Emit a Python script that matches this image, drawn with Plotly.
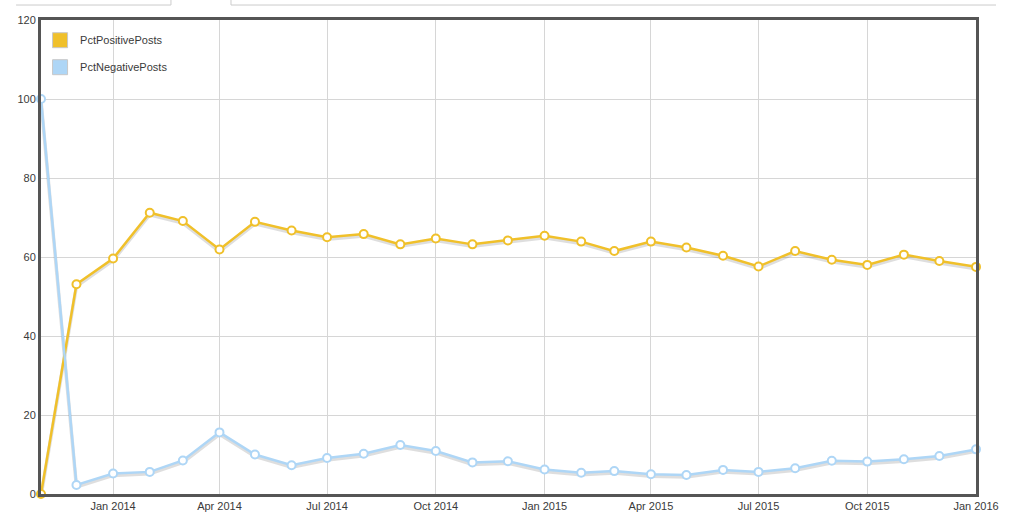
import plotly.graph_objects as go

months = ["2013-11-01", "2013-12-01", "2014-01-01", "2014-02-01", "2014-03-01", "2014-04-01",
          "2014-05-01", "2014-06-01", "2014-07-01", "2014-08-01", "2014-09-01", "2014-10-01",
          "2014-11-01", "2014-12-01", "2015-01-01", "2015-02-01", "2015-03-01", "2015-04-01",
          "2015-05-01", "2015-06-01", "2015-07-01", "2015-08-01", "2015-09-01", "2015-10-01",
          "2015-11-01", "2015-12-01", "2016-01-01"]

pct_positive = [0, 53.1, 59.6, 71.2, 69.1, 61.9, 68.9, 66.7, 65.0, 65.8, 63.2, 64.7, 63.2, 64.2,
                65.4, 63.9, 61.5, 63.9, 62.4, 60.3, 57.6, 61.5, 59.3, 58.0, 60.6, 59.0, 57.5]
pct_negative = [100, 2.3, 5.2, 5.6, 8.5, 15.6, 10.0, 7.3, 9.1, 10.2, 12.4, 10.9, 8.0, 8.3,
                6.2, 5.4, 5.8, 5.0, 4.8, 6.1, 5.6, 6.5, 8.4, 8.2, 8.8, 9.6, 11.3]

series_names = ["PctPositivePosts", "PctNegativePosts"]
series_values = [pct_positive, pct_negative]
colors = ["#F0C02A", "#AED6F6"]

tick_vals = ["2014-01-01", "2014-04-01", "2014-07-01", "2014-10-01", "2015-01-01",
             "2015-04-01", "2015-07-01", "2015-10-01", "2016-01-01"]
tick_text = ["Jan 2014", "Apr 2014", "Jul 2014", "Oct 2014", "Jan 2015",
             "Apr 2015", "Jul 2015", "Oct 2015", "Jan 2016"]

fig = go.Figure()

# soft drop shadows under the lines
for vals in series_values:
    fig.add_trace(go.Scatter(
        x=months, y=[v - 0.5 for v in vals], mode="lines",
        line=dict(color="rgba(0,0,0,0.13)", width=3.5),
        hoverinfo="skip", showlegend=False, cliponaxis=False))

for name, vals, col in zip(series_names, series_values, colors):
    fig.add_trace(go.Scatter(
        x=months, y=vals, mode="lines+markers", name=name,
        line=dict(color=col, width=2.5),
        marker=dict(symbol="circle", size=8, color="white", line=dict(color=col, width=2)),
        showlegend=False, cliponaxis=False))

# legend swatches
for i, (name, col) in enumerate(zip(series_names, colors)):
    fig.add_trace(go.Scatter(
        x=[None], y=[None], mode="markers", name=name, legendgroup=str(i),
        marker=dict(symbol="square", size=15, color=col, line=dict(color="#c8c8c8", width=1))))

grid = "#d6d6d6"
frame = "#555555"
fig.update_layout(
    width=1013, height=518,
    margin=dict(l=41, r=37, t=20, b=24, autoexpand=False),
    paper_bgcolor="white", plot_bgcolor="white",
    font=dict(family="Liberation Sans, Arial, sans-serif", size=11, color="#3a3a3a"),
    showlegend=True,
    legend=dict(x=-0.001, y=0.988, xanchor="left", yanchor="top",
                bgcolor="rgba(0,0,0,0)", font=dict(size=11, color="#3a3a3a"),
                traceorder="grouped", tracegroupgap=8, itemwidth=30),
    xaxis=dict(type="date", range=[months[0], months[-1]],
               tickvals=tick_vals, ticktext=tick_text, automargin=False,
               showgrid=True, gridcolor=grid, gridwidth=1,
               showline=True, linecolor=frame, linewidth=3, mirror=True,
               ticks="", zeroline=False, tickfont=dict(size=11, color="#3a3a3a")),
    yaxis=dict(range=[0, 120], dtick=20, tick0=0, automargin=False,
               showgrid=True, gridcolor=grid, gridwidth=1,
               showline=True, linecolor=frame, linewidth=3, mirror=True,
               ticks="", zeroline=False, tickfont=dict(size=11, color="#3a3a3a")),
    shapes=[
        dict(type="line", xref="paper", yref="paper", x0=-0.0267, x1=0.139, y0=1.0316, y1=1.0316,
             line=dict(color="#cccccc", width=1)),
        dict(type="line", xref="paper", yref="paper", x0=0.139, x1=0.139, y0=1.0316, y1=1.045,
             line=dict(color="#cccccc", width=1)),
        dict(type="line", xref="paper", yref="paper", x0=0.2032, x1=1.0214, y0=1.0316, y1=1.0316,
             line=dict(color="#cccccc", width=1)),
        dict(type="line", xref="paper", yref="paper", x0=0.2032, x1=0.2032, y0=1.0316, y1=1.045,
             line=dict(color="#cccccc", width=1)),
    ],
)

fig.write_html("out.html")
